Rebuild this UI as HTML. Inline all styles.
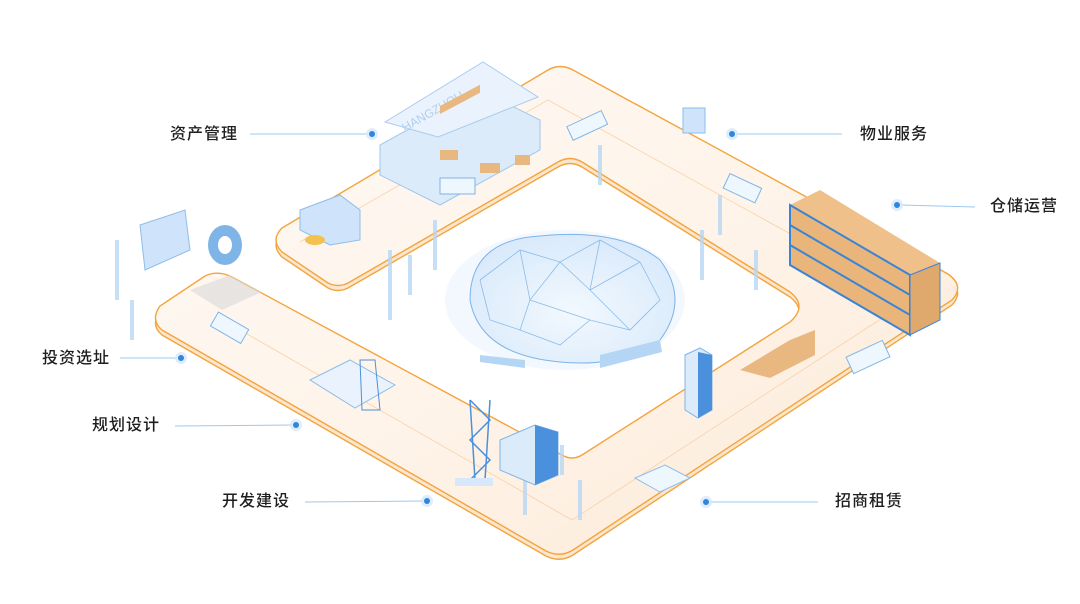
<!DOCTYPE html>
<html><head><meta charset="utf-8"><style>
html,body{margin:0;padding:0;background:#fff;}
body{width:1080px;height:604px;overflow:hidden;position:relative;font-family:"Liberation Sans","Noto Sans CJK SC",sans-serif;}
.l{position:absolute;font-size:16px;color:#1e1e1e;letter-spacing:1px;line-height:20px;font-weight:500;}
</style></head><body>
<svg width="1080" height="604" viewBox="0 0 1080 604" style="position:absolute;left:0;top:0">
<defs>
<linearGradient id="pf" x1="0" y1="0" x2="1" y2="1">
<stop offset="0" stop-color="#fffaf5"/><stop offset="0.55" stop-color="#fef3e8"/><stop offset="1" stop-color="#fce9d5"/></linearGradient>
<radialGradient id="br" cx="0.5" cy="0.6" r="0.6"><stop offset="0" stop-color="#f2f8fe"/><stop offset="1" stop-color="#d9eafb"/></radialGradient>
</defs>
<path transform="translate(0,5)" d="M282,228 L548,70 Q560,63 573,70 L948,274 Q965,286 952,300 L573,550 Q560,558 546,551 L162,330 Q150,320 160,306 L205,276 Q218,270 232,277 L562,455 Q572,461 582,455 L790,322 Q808,306 790,292 L582,162 Q570,155 558,162 L348,283 Q338,288 328,283 L282,252 Q270,240 282,228 Z" fill="#fbe6d0" stroke="#f4a43c" stroke-width="1.4"/>
<path d="M282,228 L548,70 Q560,63 573,70 L948,274 Q965,286 952,300 L573,550 Q560,558 546,551 L162,330 Q150,320 160,306 L205,276 Q218,270 232,277 L562,455 Q572,461 582,455 L790,322 Q808,306 790,292 L582,162 Q570,155 558,162 L348,283 Q338,288 328,283 L282,252 Q270,240 282,228 Z" fill="url(#pf)" stroke="#f4a43c" stroke-width="1.4"/>
<path d="M300,242 L548,100 L910,300 L572,520 L240,330" fill="none" stroke="#f8d2a6" stroke-width="0.8"/>
<g stroke="#9cc8ef" stroke-width="1">
<line x1="250" y1="134" x2="368" y2="134"/><line x1="736" y1="134" x2="842" y2="134"/>
<line x1="901" y1="205" x2="975" y2="207"/><line x1="120" y1="358" x2="177" y2="358"/>
<line x1="175" y1="426" x2="292" y2="425"/><line x1="305" y1="502" x2="423" y2="501"/>
<line x1="710" y1="502" x2="818" y2="502"/></g>
<g fill="#d6e9fb" opacity="0.8"><circle cx="372" cy="134" r="6"/><circle cx="732" cy="134" r="6"/><circle cx="897" cy="205" r="6"/><circle cx="181" cy="358" r="6"/><circle cx="296" cy="425" r="6"/><circle cx="427" cy="501" r="6"/><circle cx="706" cy="502" r="6"/></g>
<g fill="#2f86dc"><circle cx="372" cy="134" r="3"/><circle cx="732" cy="134" r="3"/><circle cx="897" cy="205" r="3"/><circle cx="181" cy="358" r="3"/><circle cx="296" cy="425" r="3"/><circle cx="427" cy="501" r="3"/><circle cx="706" cy="502" r="3"/></g>
<ellipse cx="565" cy="300" rx="120" ry="70" fill="#eef5fd" opacity="0.7"/>
<path d="M470,300 Q470,240 540,236 Q620,228 660,260 Q690,300 660,340 Q620,368 560,362 Q480,355 470,300 Z" fill="url(#br)" stroke="#7db3e6" stroke-width="1"/>
<g stroke="#8cbbe8" stroke-width="0.8" fill="none">
<path d="M480,280 L520,250 L560,262 L600,240 L640,262 L660,300 L630,330 L590,320 L560,345 L520,330 L490,320 L480,280"/>
<path d="M520,250 L530,300 L560,262 L590,290 L600,240 M590,290 L630,330 M530,300 L520,330 M530,300 L590,320 M640,262 L590,290"/></g>
<path d="M600,355 L660,340 L662,352 L600,368Z" fill="#b5d5f5"/>
<path d="M480,355 L525,360 L525,368 L480,362Z" fill="#b5d5f5"/>
<g fill="#b8d7f5" opacity="0.8">
<rect x="433" y="220" width="4" height="50"/><rect x="388" y="250" width="4" height="70"/><rect x="408" y="255" width="4" height="40"/>
<rect x="598" y="145" width="4" height="40"/><rect x="700" y="230" width="4" height="50"/><rect x="754" y="250" width="4" height="40"/>
<rect x="115" y="240" width="4" height="60"/><rect x="130" y="300" width="4" height="40"/><rect x="560" y="445" width="4" height="30"/>
<rect x="523" y="475" width="4" height="40"/><rect x="578" y="480" width="4" height="40"/><rect x="718" y="195" width="4" height="40"/></g>
<path d="M380,145 L380,175 L440,205 L540,150 L540,120 L480,90 Z" fill="#dcebfa" stroke="#9fc6ec"/>
<path d="M385,122 L483,62 L538,97 L438,137 Z" fill="#eaf3fd" stroke="#a9cbee"/>
<text x="405" y="132" font-size="12" fill="#b0d0ef" transform="rotate(-30 405 132)" font-family="Liberation Sans">HANGZHOU</text>
<g fill="#e8b880"><rect x="440" y="110" width="40" height="8" transform="skewY(-28) translate(0,230)"/><rect x="480" y="163" width="20" height="10"/><rect x="515" y="155" width="15" height="10"/><rect x="440" y="150" width="18" height="10"/></g>
<rect x="440" y="178" width="35" height="16" fill="#eef6fe" stroke="#7fb4e6"/>
<rect x="568" y="118" width="38" height="15" fill="#eef6fe" stroke="#7fb4e6" transform="rotate(-25 587 125)"/>
<rect x="725" y="180" width="35" height="16" fill="#eef6fe" stroke="#7fb4e6" transform="rotate(25 742 188)"/>
<rect x="212" y="320" width="35" height="16" fill="#eef6fe" stroke="#7fb4e6" transform="rotate(30 230 328)"/>
<rect x="848" y="348" width="40" height="18" fill="#eef6fe" stroke="#7fb4e6" transform="rotate(-25 868 357)"/>
<g transform="translate(790,185)">
<path d="M0,20 L120,90 L150,78 L30,5 Z" fill="#efc089"/>
<path d="M0,20 L0,80 L120,150 L120,90 Z" fill="#e9b57a" stroke="#3a84d6" stroke-width="2"/>
<path d="M0,40 L120,110 M0,60 L120,130" stroke="#3a84d6" stroke-width="2"/>
<path d="M120,90 L150,78 L150,135 L120,150Z" fill="#dfa86c" stroke="#3a84d6"/>
</g>
<path d="M740,370 L790,340 L815,330 L815,355 L770,378 Z" fill="#e8b880"/>
<path d="M140,225 L185,210 L190,250 L145,270 Z" fill="#cfe4fa" stroke="#8dbde9"/>
<ellipse cx="225" cy="245" rx="17" ry="20" fill="#7fb4e6"/><ellipse cx="225" cy="245" rx="7" ry="9" fill="#fff"/>
<path d="M190,290 L230,275 L262,292 L222,310 Z" fill="#d8d8d8" opacity="0.6"/>
<path d="M310,380 L350,360 L395,385 L355,408 Z" fill="#eaf3fd" stroke="#8dbde9"/>
<path d="M360,360 L375,360 L380,410 L362,410Z" fill="none" stroke="#4a90dc"/>
<path d="M470,400 L475,480 M490,400 L485,480 M470,400 L490,420 L470,440 L490,460 L470,480" stroke="#4a90dc" fill="none" stroke-width="1.5"/>
<rect x="455" y="478" width="38" height="8" fill="#d6e8fb"/>
<path d="M500,440 L535,425 L558,432 L558,475 L535,485 L500,470Z" fill="#dcebfa" stroke="#7fb4e6"/>
<path d="M535,425 L558,432 L558,475 L535,485Z" fill="#4a90dc"/>
<path d="M685,355 L700,348 L712,355 L712,410 L698,418 L685,410 Z" fill="#dcebfa" stroke="#7fb4e6"/>
<path d="M698,352 L712,355 L712,410 L698,418Z" fill="#4a90dc"/>
<path d="M635,478 L665,465 L690,478 L660,492Z" fill="#eef6fe" stroke="#8dbde9"/>
<path d="M300,210 L340,195 L360,210 L360,240 L330,245 L300,230Z" fill="#cfe4fa" stroke="#8dbde9"/>
<ellipse cx="315" cy="240" rx="10" ry="5" fill="#f2c14e"/>
<rect x="683" y="108" width="22" height="25" fill="#cfe4fa" stroke="#8dbde9"/>
</svg>
<div class="l" style="left:170px;top:125px">资产管理</div>
<div class="l" style="left:860px;top:125px">物业服务</div>
<div class="l" style="left:990px;top:197px">仓储运营</div>
<div class="l" style="left:42px;top:349px">投资选址</div>
<div class="l" style="left:92px;top:416px">规划设计</div>
<div class="l" style="left:222px;top:492px">开发建设</div>
<div class="l" style="left:835px;top:492px">招商租赁</div>
</body></html>
